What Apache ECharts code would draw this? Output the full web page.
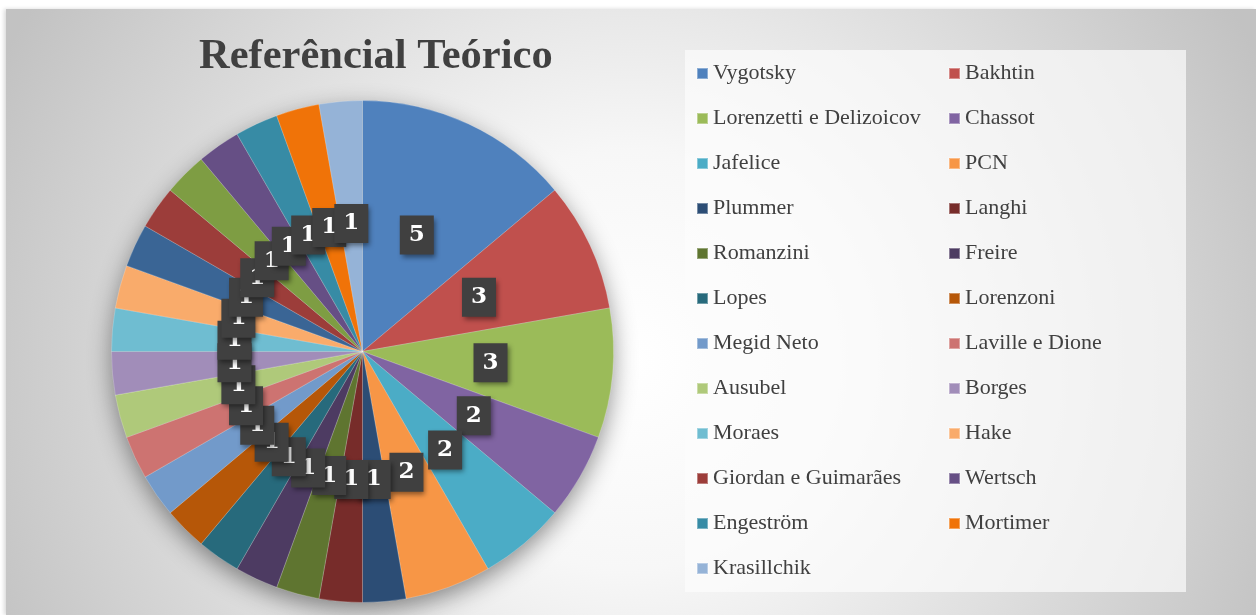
<!DOCTYPE html>
<html>
<head>
<meta charset="utf-8">
<script src="https://cdn.jsdelivr.net/npm/echarts@6/dist/echarts.min.js"></script>
<style>
  html, body { margin: 0; padding: 0; background: #fff; }
  #chart { position: absolute; left: 6px; top: 9px; width: 1250px; height: 606px; box-shadow: -2px 0 4px rgba(0,0,0,0.15); }
</style>
</head>
<body>
<div id="chart"></div>
<script>
// dados (total = 36)
const autores = [
  'Vygotsky', 'Bakhtin', 'Lorenzetti e Delizoicov', 'Chassot', 'Jafelice', 'PCN',
  'Plummer', 'Langhi', 'Romanzini', 'Freire', 'Lopes', 'Lorenzoni',
  'Megid Neto', 'Laville e Dione', 'Ausubel', 'Borges', 'Moraes', 'Hake',
  'Série 19', 'Giordan e Guimarães', 'Série 21', 'Wertsch', 'Engeström', 'Mortimer', 'Krasillchik'
];
const citacoes = [5, 3, 3, 2, 2, 2, 1, 1, 1, 1, 1, 1, 1, 1, 1, 1, 1, 1, 1, 1, 1, 1, 1, 1, 1];
// a legenda original não mostra duas das fatias
const semLegenda = ['Série 19', 'Série 21'];
const legenda = autores.filter(a => semLegenda.indexOf(a) < 0);

const cores = [
  '#4F81BD', '#C0504D', '#9BBB59', '#8064A2', '#4BACC6', '#F79646',
  '#2C4D75', '#772C2A', '#5F7530', '#4D3B62', '#276A7C', '#B65708',
  '#729ACA', '#CD7371', '#AFC97A', '#A18DB9', '#6FBDD1', '#F9AB6B',
  '#3A6595', '#9C3D3A', '#7E9D43', '#664F85', '#378BA5', '#F07308', '#95B3D7'
];

const chart = echarts.init(document.getElementById('chart'));
const option = {
  backgroundColor: {
    type: 'radial', x: 0.5, y: 0.58, r: 1.15,
    colorStops: [
      { offset: 0, color: '#ffffff' },
      { offset: 0.3, color: '#f7f7f7' },
      { offset: 1, color: '#c2c2c2' }
    ]
  },
  color: cores,
  title: {
    text: 'Referêncial Teórico',
    left: 193,
    top: 27,
    padding: 0,
    textStyle: {
      fontFamily: 'Liberation Serif',
      fontWeight: 'bold',
      fontSize: 42.5,
      color: '#404040'
    }
  },
  legend: {
    data: legenda,
    orient: 'horizontal',
    left: 679,
    top: 41,
    width: 493,
    padding: [8, 0, 8, 11],
    itemWidth: 11,
    itemHeight: 11,
    itemGap: 14,
    icon: 'rect',
    backgroundColor: 'rgba(252,252,252,0.7)',
    selectedMode: false,
    textStyle: {
      fontFamily: 'Liberation Serif',
      fontSize: 22,
      color: '#404040',
      width: 221,
      height: 31,
      lineHeight: 31,
      padding: 0
    }
  },
  graphic: {
    elements: [{
      type: 'circle',
      z: 0,
      silent: true,
      shape: { cx: 356.5, cy: 342.5, r: 250 },
      style: { fill: '#888', shadowBlur: 25, shadowOffsetY: 8, shadowColor: 'rgba(0,0,0,0.45)' }
    }]
  },
  series: [{
    type: 'pie',
    z: 2,
    center: [356.5, 342.5],
    radius: 251,
    startAngle: 90,
    clockwise: true,
    animation: false,
    itemStyle: { borderColor: 'rgba(255,255,255,0.35)', borderWidth: 0.6 },
    label: {
      show: true,
      position: 'inside',
      formatter: '{c}',
      fontFamily: 'DejaVu Serif',
      fontWeight: 'bold',
      fontSize: 23,
      lineHeight: 25,
      color: '#fff',
      backgroundColor: '#404040',
      padding: [7, 9, 7, 9],
      shadowBlur: 5,
      shadowOffsetX: 2,
      shadowOffsetY: 3,
      shadowColor: 'rgba(0,0,0,0.45)'
    },
    labelLayout: { hideOverlap: false },
    labelLine: { show: false },
    emphasis: { disabled: true },
    data: autores.map((a, i) => ({ name: a, value: citacoes[i] }))
  }]
};
chart.setOption(option);
window.addEventListener('resize', () => chart.resize());
</script>
</body>
</html>
